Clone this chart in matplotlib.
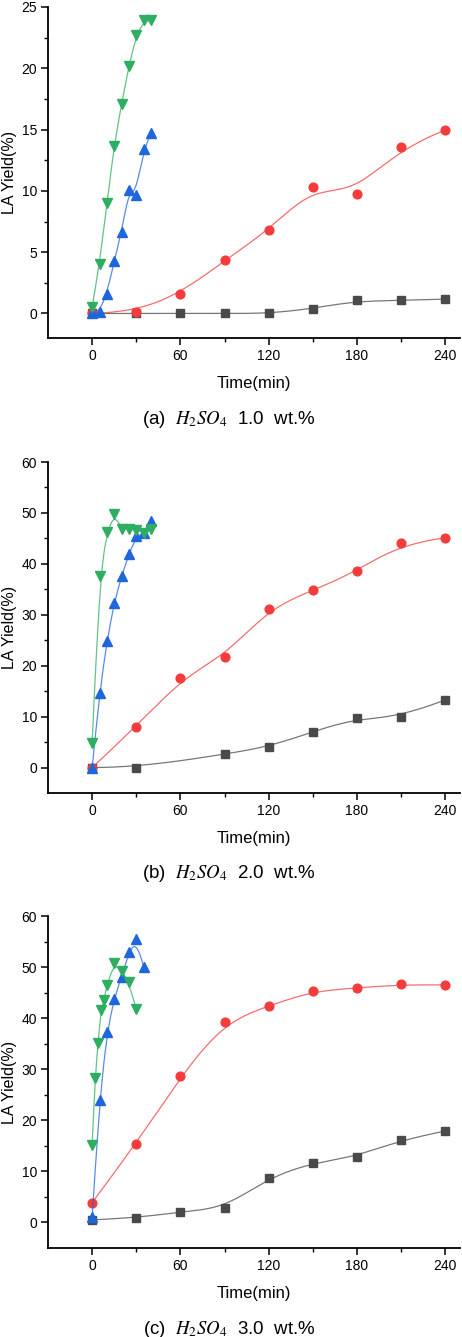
import numpy as np
import matplotlib.pyplot as plt

plt.rcParams['font.family'] = ['Liberation Sans', 'DejaVu Sans']
plt.rcParams['mathtext.fontset'] = 'stix'

# time points (min)
t_long = [0, 30, 60, 90, 120, 150, 180, 210, 240]
t_short = [0, 5, 10, 15, 20, 25, 30, 35, 40]

# (a) 1.0 wt.%
a_black = [0, 0, 0, 0, 0, 0.4, 1.06, 1.06, 1.17]
a_red = [0, 0.13, 1.6, 4.33, 6.78, 10.32, 9.72, 13.59, 14.95]
a_blue = [0, 0.1, 1.58, 4.27, 6.67, 10.1, 9.67, 13.4, 14.76]
a_green = [0.5, 4.0, 9.0, 13.7, 17.1, 20.2, 22.7, 23.9, 23.9]

# (b) 2.0 wt.%
b_black_t = [0, 30, 90, 120, 150, 180, 210, 240]
b_black = [0, 0, 2.6, 4.1, 7.0, 9.8, 9.9, 13.3]
b_red = [0, 8.0, 17.6, 21.8, 31.2, 34.8, 38.5, 44.0, 45.1]
b_blue = [0, 14.6, 24.8, 32.3, 37.6, 41.9, 45.4, 46.1, 48.5]
b_green = [4.9, 37.6, 46.2, 49.8, 46.9, 46.8, 46.7, 46.1, 46.8]

# (c) 3.0 wt.%
c_black = [0.5, 0.9, 2.1, 2.75, 8.8, 11.7, 12.8, 16.2, 17.9]
c_red = [3.9, 15.4, 28.7, 39.2, 42.4, 45.3, 45.9, 46.6, 46.5]
c_blue_t = [0, 5, 10, 15, 20, 25, 30, 35]
c_blue = [1.0, 24.0, 37.2, 43.8, 48.1, 52.9, 55.5, 50.1]
c_green_t = [0, 2, 4, 6, 8, 10, 15, 20, 25, 30]
c_green = [15.2, 28.3, 35.1, 41.5, 43.5, 46.5, 50.8, 49.2, 47.1, 41.7]

captions = ['(a)  $H_2SO_4$  1.0  wt.%', '(b)  $H_2SO_4$  2.0  wt.%',
            '(c)  $H_2SO_4$  3.0  wt.%']

BLACK = '#4a4a4a'
RED = '#f43c3c'
BLUE = '#1f66dd'
GREEN = '#2eae63'


def bspline(x, y, num=300):
    # clamped uniform cubic B-spline, data points used as control points
    P = np.column_stack([x, y]).astype(float)
    m = len(P)
    k = 3
    knots = np.concatenate([[0] * k, np.arange(m - k + 1), [m - k] * k]).astype(float)
    u = np.linspace(0, m - k, num)
    u[-1] -= 1e-9

    def N(i, d):
        if d == 0:
            return ((knots[i] <= u) & (u < knots[i + 1])).astype(float)
        out = np.zeros_like(u)
        den1 = knots[i + d] - knots[i]
        den2 = knots[i + d + 1] - knots[i + 1]
        if den1 > 0:
            out += (u - knots[i]) / den1 * N(i, d - 1)
        if den2 > 0:
            out += (knots[i + d + 1] - u) / den2 * N(i + 1, d - 1)
        return out

    curve = np.zeros((num, 2))
    for i in range(m):
        curve += np.outer(N(i, k), P[i])
    return curve[:, 0], curve[:, 1]


def draw(ax, x, y, color, marker, ms):
    cx, cy = bspline(x, y)
    ax.plot(cx, cy, color=color, lw=0.9, alpha=0.75)
    ax.plot(x, y, ls='none', marker=marker, color=color, ms=ms, mec=color)


fig = plt.figure(figsize=(4.62, 13.37), dpi=100)
W, H = 462, 1337
boxes = [(7, 338), (462, 793), (916, 1248)]
ylims = [(-2, 25), (-5, 60), (-5, 60)]
ymaj = [5, 10, 10]
panels = [
    [(t_long, a_black), (t_long, a_red), (t_short, a_blue), (t_short, a_green)],
    [(b_black_t, b_black), (t_long, b_red), (t_short, b_blue), (t_short, b_green)],
    [(t_long, c_black), (t_long, c_red), (c_blue_t, c_blue), (c_green_t, c_green)],
]
styles = [(BLACK, 's', 5.5), (RED, 'o', 6.3), (BLUE, '^', 6.8), (GREEN, 'v', 6.8)]

for p in range(3):
    top, bot = boxes[p]
    ax = fig.add_axes([48 / W, 1 - bot / H, 412 / W, (bot - top) / H])
    for (x, y), (c, m, ms) in zip(panels[p], styles):
        draw(ax, x, y, c, m, ms)
    ax.set_xlim(-30, 250)
    ax.set_ylim(*ylims[p])
    ax.set_xticks([0, 60, 120, 180, 240])
    ax.set_xticks([30, 90, 150, 210], minor=True)
    ax.set_yticks(np.arange(0, ylims[p][1] + 0.1, ymaj[p]))
    ax.set_yticks(np.arange(ymaj[p] / 2, ylims[p][1], ymaj[p]), minor=True)
    ax.spines['top'].set_visible(False)
    ax.spines['right'].set_visible(False)
    for s in ['left', 'bottom']:
        ax.spines[s].set_linewidth(1.3)
    ax.tick_params(which='major', length=5, width=1.1, labelsize=10, pad=3)
    ax.tick_params(which='minor', length=3, width=1.0)
    ax.set_xlabel('Time(min)', fontsize=12, labelpad=9)
    ax.set_ylabel('LA Yield(%)', fontsize=11.5, labelpad=3)
    fig.text(229 / W, 1 - (bot + 81) / H, captions[p], ha='center', va='center',
             fontsize=13.5)

fig.savefig('out.png', dpi=100)
